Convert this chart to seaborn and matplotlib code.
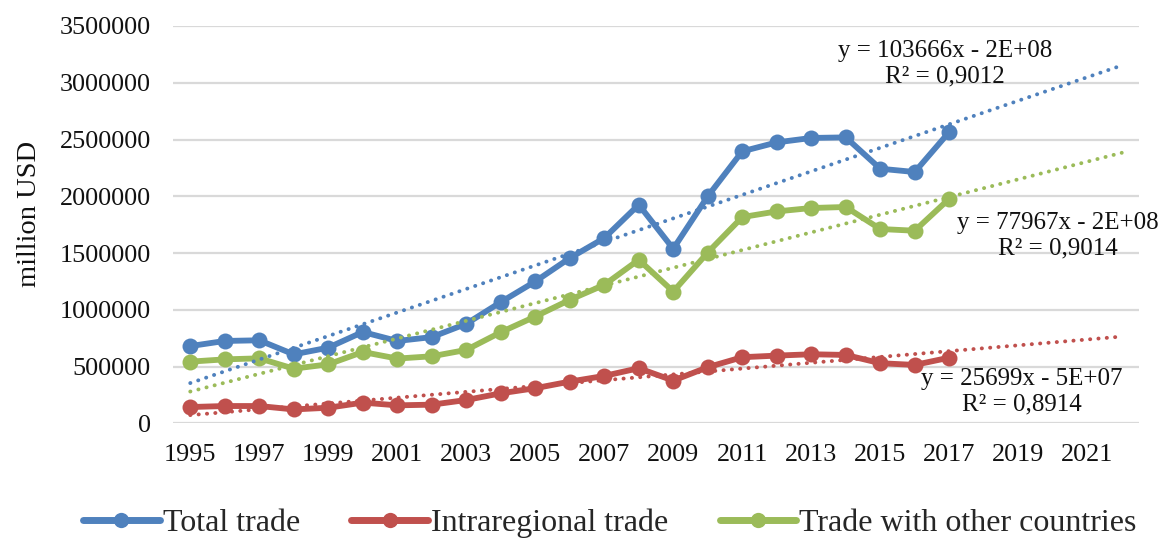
import numpy as np
import pandas as pd
import matplotlib
matplotlib.use("Agg")
import matplotlib.pyplot as plt
import seaborn as sns
from matplotlib.ticker import FuncFormatter, MultipleLocator

years = list(range(1995, 2018))
total_trade = [681000, 726000, 732000, 608000, 667000, 805000, 726000, 760000,
               877000, 1068000, 1250000, 1456000, 1632000, 1926000, 1538000,
               2000000, 2396000, 2475000, 2514000, 2519000, 2243000, 2214000, 2567000]
intraregional_trade = [144000, 153000, 153000, 123000, 138000, 183000, 159000, 165000,
                       206000, 265000, 310000, 368000, 418000, 486000, 377000,
                       495000, 583000, 597000, 609000, 603000, 530000, 515000, 579000]
other_countries = [544000, 564000, 573000, 482000, 520000, 629000, 571000, 591000,
                   647000, 803000, 941000, 1088000, 1220000, 1441000, 1161000,
                   1505000, 1817000, 1867000, 1897000, 1906000, 1712000, 1697000, 1979000]
series_names = ["Total trade", "Intraregional trade", "Trade with other countries"]
equations = ["y = 103666x - 2E+08\nR² = 0,9012",
             "y = 25699x - 5E+07\nR² = 0,8914",
             "y = 77967x - 2E+08\nR² = 0,9014"]
trend_end_year = 2022
x_tick_labels = list(range(1995, 2022, 2))

colors = ["#4F81BD", "#C0504D", "#9BBB59"]

df = pd.DataFrame({
    "year": years * 3,
    "value": total_trade + intraregional_trade + other_countries,
    "series": sum([[n] * len(years) for n in series_names], []),
})

sns.set_theme(style="white")
plt.rcParams["font.family"] = ["Liberation Serif", "DejaVu Serif"]

fig = plt.figure(figsize=(11.68, 5.42), dpi=100)
ax = fig.add_axes([173 / 1168, 1 - 423.4 / 542, (1139 - 173) / 1168, (423.4 - 26) / 542])

for y in np.arange(0, 3500001, 500000):
    ax.axhline(y, color="#d9d9d9", lw=1.6, zorder=0)

sns.lineplot(data=df, x="year", y="value", hue="series", palette=colors,
             hue_order=series_names, marker="o", markersize=11.5, markeredgewidth=0,
             linewidth=4.2, ax=ax, legend=False, zorder=3)

# linear trend lines extended to 2022, drawn as round dots
trend_x = np.arange(1995, trend_end_year + 1)
for vals, c in zip([total_trade, intraregional_trade, other_countries], colors):
    k, b = np.polyfit(years, vals, 1)
    ax.plot(trend_x, k * trend_x + b, color=c, lw=2.8, linestyle=(0, (0.05, 2.1)),
            dash_capstyle="round", zorder=4)

eq_pos = [(945, 64), (1022, 392), (1058, 236)]
for text, (px, py) in zip(equations, eq_pos):
    fig.text(px / 1168, 1 - py / 542, text, ha="center", va="center",
             fontsize=18, linespacing=1.22, color="#111111")

ax.set_xlim(1994.5, 2022.5)
ax.set_ylim(0, 3500000)
ax.set_xticks(x_tick_labels)
ax.set_xticklabels([str(v) for v in x_tick_labels])
ax.yaxis.set_major_locator(MultipleLocator(500000))
ax.yaxis.set_major_formatter(FuncFormatter(lambda v, p: f"{int(v)}"))
ax.tick_params(axis="both", length=0, labelsize=18.8, colors="#111111")
ax.tick_params(axis="y", pad=16)
ax.tick_params(axis="x", pad=15)
for s in ax.spines.values():
    s.set_visible(False)

ax.set_xlabel("")
ax.set_ylabel("million USD", fontsize=20.5, color="#111111")
ax.yaxis.set_label_coords(-0.136, 0.527)

handles = [plt.Line2D([], [], color=c, lw=5, marker="o", markersize=11,
                      markeredgewidth=0) for c in colors]
fig.legend(handles, series_names, loc="center", bbox_to_anchor=(610 / 1168, 1 - 523 / 542),
           ncol=3, frameon=False, fontsize=23, handlelength=2.4, handletextpad=0.1,
           columnspacing=1.6)

fig.savefig("out.png", dpi=100, facecolor="white")
